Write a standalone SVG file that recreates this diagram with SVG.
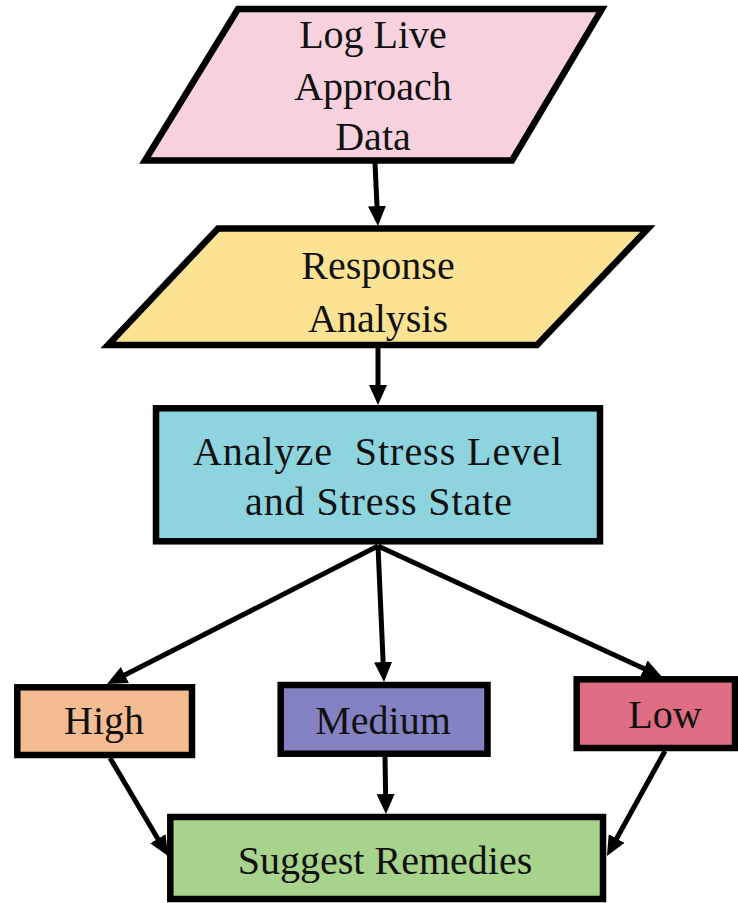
<svg xmlns="http://www.w3.org/2000/svg" width="738" height="903" viewBox="0 0 738 903">
  <style>
    .shape { stroke: #000; stroke-width: 6.5; stroke-linejoin: miter; }
    .lbl { font-family: "Liberation Serif", "Times New Roman", serif; font-size: 40px; fill: #111; text-anchor: middle; }
    .edge { stroke: #000; stroke-width: 5; fill: none; marker-end: url(#head); }
  </style>
  <defs>
    <marker id="head" markerUnits="userSpaceOnUse" markerWidth="22" markerHeight="20" refX="4" refY="9" orient="auto">
      <path d="M0,0 L20,9 L0,18 z" fill="#000"/>
    </marker>
  </defs>
  <rect width="738" height="903" fill="#fff"/>

  <!-- connectors -->
  <g id="connectors">
    <line class="edge" x1="375" y1="163" x2="377.2" y2="210"/>
    <line class="edge" x1="378" y1="348" x2="378" y2="389"/>
    <line class="edge" x1="378" y1="546" x2="121.3" y2="676.8"/>
    <line class="edge" x1="378" y1="546" x2="383.3" y2="666"/>
    <line class="edge" x1="378" y1="546" x2="647.5" y2="670.3"/>
    <line class="edge" x1="110" y1="758" x2="159.9" y2="842.2"/>
    <line class="edge" x1="385" y1="757" x2="385.7" y2="798"/>
    <line class="edge" x1="665" y1="751" x2="614.7" y2="842"/>
  </g>

  <g id="log-data">
    <polygon class="shape" points="238,9 602,9 512,160.5 145,160.5" fill="#F8D1DF"/>
    <text class="lbl" x="373" y="48">Log Live</text>
    <text class="lbl" x="373" y="100">Approach</text>
    <text class="lbl" x="373" y="150">Data</text>
  </g>

  <g id="response-analysis">
    <polygon class="shape" points="218,228.5 648,228.5 537,345 108,345" fill="#FCE394"/>
    <text class="lbl" x="378" y="279">Response</text>
    <text class="lbl" x="378" y="332">Analysis</text>
  </g>

  <g id="analyze-stress">
    <rect class="shape" x="156" y="408.3" width="444" height="133" fill="#8DD4DF"/>
    <text class="lbl" x="377.5" y="465" textLength="369" lengthAdjust="spacing" style="white-space:pre">Analyze  Stress Level</text>
    <text class="lbl" x="378.5" y="515" textLength="267" lengthAdjust="spacing">and Stress State</text>
  </g>

  <g id="high">
    <rect class="shape" x="17.3" y="687.3" width="174.7" height="67.7" fill="#F4BC90"/>
    <text class="lbl" x="104" y="734">High</text>
  </g>

  <g id="medium">
    <rect class="shape" x="280.7" y="685" width="206.8" height="68.7" fill="#8482C2"/>
    <text class="lbl" x="383" y="734">Medium</text>
  </g>

  <g id="low">
    <rect class="shape" x="576.7" y="679.3" width="158.3" height="68.7" fill="#DE6C82"/>
    <text class="lbl" x="665" y="728">Low</text>
  </g>

  <g id="suggest-remedies">
    <rect class="shape" x="170.3" y="817" width="432.7" height="82" fill="#A8D38C"/>
    <text class="lbl" x="385" y="874">Suggest Remedies</text>
  </g>
</svg>
